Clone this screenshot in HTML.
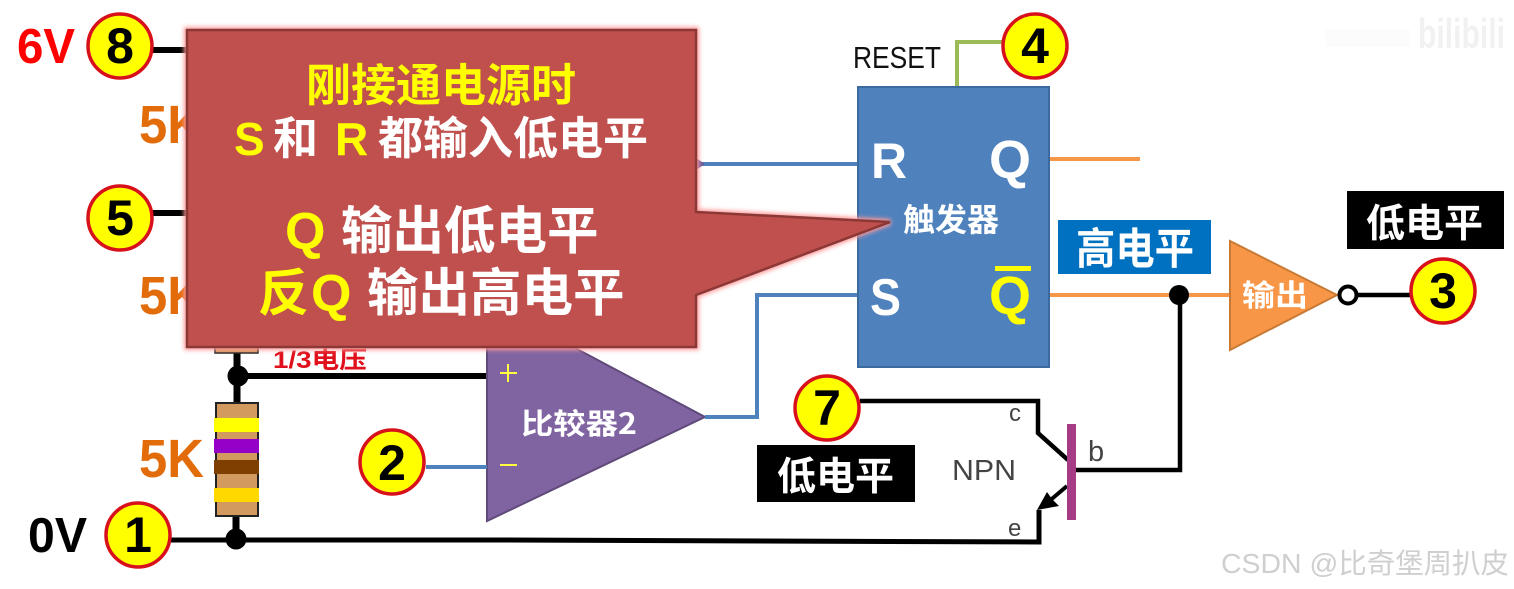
<!DOCTYPE html>
<html><head><meta charset="utf-8"><style>
html,body{margin:0;padding:0;background:#fff;width:1514px;height:589px;overflow:hidden}
svg{display:block}
text{font-family:"Liberation Sans","Noto Sans CJK SC",sans-serif}
.b{font-weight:bold}
.cj{font-family:"Noto Sans CJK SC","Liberation Sans",sans-serif;font-weight:bold}
.n{font-family:"Liberation Sans",sans-serif;font-weight:bold;font-size:50px;fill:#000;text-anchor:middle}
</style></head><body>
<svg width="1514" height="589" viewBox="0 0 1514 589" xmlns="http://www.w3.org/2000/svg">
<defs><filter id="bl" x="-5%" y="-5%" width="110%" height="110%"><feGaussianBlur stdDeviation="2"/></filter></defs>
<rect width="1514" height="589" fill="#fff"/>

<!-- wires black -->
<g fill="none" stroke="#000" stroke-linecap="butt">
<path d="M150 50H190M150 213H190" stroke-width="6"/>
<path d="M237 340V405" stroke-width="7"/>
<path d="M237 376H487" stroke-width="6"/>
<path d="M236 515V540" stroke-width="7"/>
<path d="M170 540L500 540L1039 542V510" stroke-width="5"/>
<path d="M860 401H1038V433L1068 460" stroke-width="4.5"/>
<path d="M1180 296V470H1076" stroke-width="4.5"/>
<path d="M1354 295H1420" stroke-width="4.5"/>
<path d="M1067 486L1047 503" stroke-width="4"/>
</g>
<path d="M1037 510L1047 492L1052 499L1059 506Z" fill="#000"/>
<rect x="215" y="340" width="43" height="13" fill="#d19a5f" stroke="#222" stroke-width="1.5"/>

<!-- resistor -->
<rect x="216" y="403" width="42" height="113" fill="#d39a60" stroke="#222" stroke-width="2"/>
<rect x="214" y="418" width="45" height="14" fill="#ffff00"/>
<rect x="214" y="439" width="45" height="14" fill="#9400c8"/>
<rect x="214" y="460" width="45" height="14" fill="#7f3f00"/>
<rect x="214" y="488" width="45" height="14" fill="#ffd800"/>
<circle cx="238" cy="376" r="10.5" fill="#000"/>
<circle cx="236" cy="539" r="10.5" fill="#000"/>

<text x="139" y="143" class="b" font-size="54" fill="#e36c0a" textLength="65" lengthAdjust="spacingAndGlyphs">5K</text>
<text x="139" y="314" class="b" font-size="54" fill="#e36c0a" textLength="65" lengthAdjust="spacingAndGlyphs">5K</text>
<text x="139" y="477" class="b" font-size="54" fill="#e36c0a" textLength="65" lengthAdjust="spacingAndGlyphs">5K</text>
<text x="17" y="63" class="b" font-size="49" fill="#f00" textLength="58" lengthAdjust="spacingAndGlyphs">6V</text>
<text x="28" y="552" class="b" font-size="49" fill="#000" textLength="59" lengthAdjust="spacingAndGlyphs">0V</text>
<text x="273" y="368" class="b" font-size="24" fill="#e0101c" textLength="94" lengthAdjust="spacingAndGlyphs">1/3电压</text>

<!-- comparator -->
<path d="M487 340V521L705 417L560 340Z" fill="#8064a2" stroke="#5f4a7a" stroke-width="2"/>
<rect x="500" y="372" width="17" height="2" fill="#ffff40"/>
<rect x="507" y="364" width="2" height="18" fill="#ffff40"/>
<rect x="500" y="464" width="17" height="2" fill="#ffff40"/>
<text x="521" y="434" class="cj" font-size="29" fill="#fff" textLength="116" lengthAdjust="spacingAndGlyphs">比较器2</text>

<!-- blue wires -->
<g fill="none" stroke="#4f81bd" stroke-width="4">
<path d="M426 467H487"/>
<path d="M705 417H757V295H858"/>
<path d="M698 164H858"/>
</g>
<path d="M696 158L705 164L696 170Z" fill="#6a5a9a"/>

<!-- green -->
<path d="M957 86V42H1012" fill="none" stroke="#9bbb59" stroke-width="4"/>

<!-- flipflop -->
<rect x="858" y="87" width="191" height="280" fill="#4f81bd" stroke="#3a6a9e" stroke-width="2"/>
<text x="871" y="178" class="b" font-size="50" fill="#fff" textLength="36" lengthAdjust="spacingAndGlyphs">R</text>
<text x="989" y="178" class="b" font-size="54" fill="#fff">Q</text>
<text x="870" y="315" class="b" font-size="52" fill="#fff" textLength="31" lengthAdjust="spacingAndGlyphs">S</text>
<text x="989" y="314" class="b" font-size="54" fill="#ff0">Q</text>
<rect x="995" y="266" width="36" height="5" fill="#ff0"/>
<text x="903" y="231" class="cj" font-size="32" fill="#fff">触发器</text>
<text x="853" y="68" font-size="31" fill="#111" textLength="88" lengthAdjust="spacingAndGlyphs">RESET</text>

<!-- orange -->
<path d="M1050 159H1140M1050 295H1232" fill="none" stroke="#f79646" stroke-width="4"/>
<circle cx="1179" cy="295" r="10" fill="#000"/>
<path d="M1230 241V350L1337 295Z" fill="#f79646" stroke="#c87a35" stroke-width="2"/>
<text x="1242" y="306" class="cj" font-size="30" fill="#fff" textLength="66" lengthAdjust="spacingAndGlyphs">输出</text>
<circle cx="1348" cy="295" r="8.5" fill="#fff" stroke="#000" stroke-width="4"/>

<!-- labels -->
<rect x="1058" y="220" width="153" height="54" fill="#0070c0"/>
<text x="1076" y="264" class="cj" font-size="43" fill="#fff" textLength="118" lengthAdjust="spacingAndGlyphs">高电平</text>
<rect x="1347" y="191" width="157" height="58" fill="#000"/>
<text x="1366" y="237" class="cj" font-size="39" fill="#fff">低电平</text>
<rect x="757" y="445" width="158" height="57" fill="#000"/>
<text x="777" y="490" class="cj" font-size="39" fill="#fff">低电平</text>

<!-- NPN -->
<rect x="1067" y="424" width="9" height="96" fill="#a53c85"/>
<text x="952" y="480" font-size="29" fill="#444" textLength="64" lengthAdjust="spacingAndGlyphs">NPN</text>
<text x="1009" y="421" font-size="24" fill="#444">c</text>
<text x="1008" y="536" font-size="24" fill="#444">e</text>
<text x="1088" y="461" font-size="29" fill="#444">b</text>

<!-- callout -->
<path d="M187 30H696V212L890 222L696 295V347H187Z" fill="#ff9a9a" stroke="#ff9a9a" stroke-width="6" filter="url(#bl)"/>
<path d="M187 30H696V212L890 222L696 295V347H187Z" fill="#c0504d" stroke="#8c3836" stroke-width="2.5"/>
<text x="306" y="101" class="cj" font-size="45" fill="#ff0">刚接通电源时</text>
<text x="234" y="155" class="b" font-size="46" fill="#ff0">S</text>
<text x="273" y="154" class="cj" font-size="45" fill="#fff">和</text>
<text x="335" y="155" class="b" font-size="46" fill="#ff0">R</text>
<text x="378" y="154" class="cj" font-size="45" fill="#fff">都输入低电平</text>
<text x="285" y="249" class="b" font-size="52" fill="#ff0">Q</text>
<text x="341" y="249" class="cj" font-size="51.5" fill="#fff">输出低电平</text>
<text x="258" y="311" class="cj" font-size="51" fill="#ff0">反</text>
<text x="311" y="311" class="b" font-size="52" fill="#ff0">Q</text>
<text x="367" y="311" class="cj" font-size="51.5" fill="#fff">输出高电平</text>

<!-- badges -->
<g fill="#ff0" stroke="#d8101c" stroke-width="3.5">
<circle cx="120" cy="46" r="32"/>
<circle cx="120" cy="218" r="32"/>
<circle cx="138" cy="535" r="32"/>
<circle cx="392" cy="462" r="32"/>
<circle cx="827" cy="408" r="32"/>
<circle cx="1035" cy="46" r="32"/>
<circle cx="1443" cy="291" r="32"/>
</g>
<text x="120" y="63" class="n">8</text>
<text x="120" y="235" class="n">5</text>
<text x="138" y="552" class="n">1</text>
<text x="392" y="480" class="n">2</text>
<text x="827" y="425" class="n">7</text>
<text x="1035" y="63" class="n">4</text>
<text x="1443" y="308" class="n">3</text>

<!-- watermarks -->
<text x="1221" y="573" font-size="28" fill="#cfcfcf" textLength="288" lengthAdjust="spacingAndGlyphs">CSDN @比奇堡周扒皮</text>
<text x="1418" y="48" class="b" font-size="42" fill="#f1f1f1" textLength="87" lengthAdjust="spacingAndGlyphs">bilibili</text>
<rect x="1325" y="29" width="85" height="18" fill="#fcfcfc"/>
</svg>
</body></html>
